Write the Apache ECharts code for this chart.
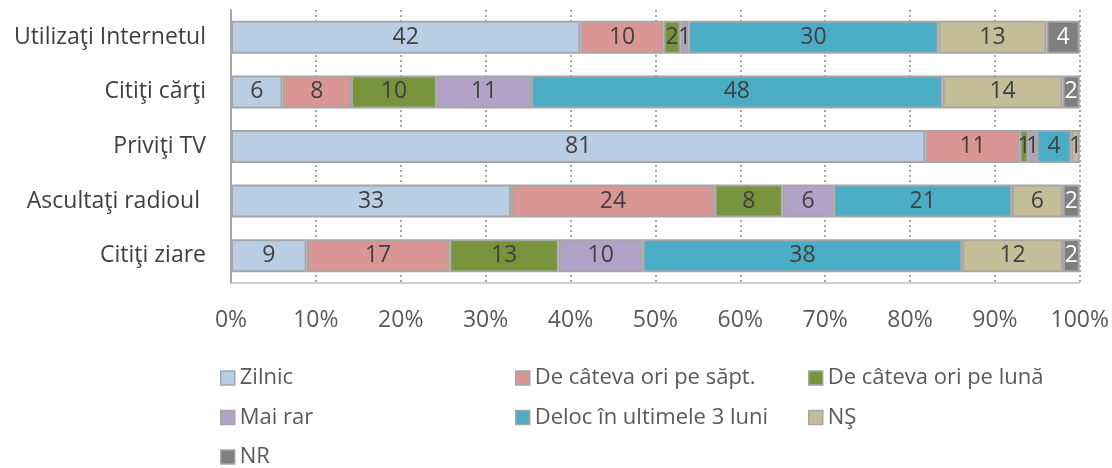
<!DOCTYPE html>
<html>
<head>
<meta charset="utf-8">
<script src="https://cdn.jsdelivr.net/npm/echarts@6/dist/echarts.min.js"></script>
<style>html,body{margin:0;padding:0;background:#fff}#c{width:1112px;height:468px}</style>
</head>
<body>
<div id="c"></div>
<script>
const categories = ["Utilizaţi Internetul", "Citiţi cărţi", "Priviţi TV", "Ascultaţi radioul ", "Citiţi ziare"];
const seriesNames = ["Zilnic", "De câteva ori pe săpt.", "De câteva ori pe lună", "Mai rar", "Deloc în ultimele 3 luni", "NŞ", "NR"];
const zilnic   = [42, 6, 81, 33, 9];
const saptamana = [10, 8, 11, 24, 17];
const luna     = [2, 10, 1, 8, 13];
const maiRar   = [1, 11, 1, 6, 10];
const deloc    = [30, 48, 4, 21, 38];
const ns       = [13, 14, 1, 6, 12];
const nr       = [4, 2, 0, 2, 2];
const xTickLabels = ["0%", "10%", "20%", "30%", "40%", "50%", "60%", "70%", "80%", "90%", "100%"];
const colors = ["#B9CDE5", "#D99694", "#77933C", "#B3A2C7", "#4BACC6", "#C4BD97", "#7F7F7F"];

const seriesValues = [zilnic, saptamana, luna, maiRar, deloc, ns, nr];
const totals = categories.map((_, i) => seriesValues.reduce((s, arr) => s + arr[i], 0));
const FONT = "Open Sans";

const series = seriesNames.map((name, k) => ({
  name: name,
  type: 'bar',
  stack: 'total',
  barWidth: 33,
  itemStyle: { color: colors[k], borderColor: '#A6A6A6', borderWidth: 2 },
  label: {
    show: true,
    position: 'inside',
    fontFamily: FONT,
    fontSize: 23,
    color: k === 6 ? '#FFFFFF' : '#404040',
    formatter: p => { const v = seriesValues[k][p.dataIndex]; return v ? String(v) : ''; }
  },
  labelLayout: { hideOverlap: false },
  data: seriesValues[k].map((v, i) => v ? v / totals[i] * 100 : null)
}));

const legendCol = (names, left) => ({
  orient: 'vertical',
  left: left,
  top: 367,
  height: 110,
  padding: 0,
  itemGap: 17.5,
  itemWidth: 14,
  itemHeight: 14,
  icon: 'rect',
  itemStyle: { borderColor: '#A6A6A6', borderWidth: 1.5 },
  textStyle: { fontFamily: FONT, fontSize: 22, color: '#595959', lineHeight: 22, padding: [0, 0, 0, 0] },
  data: names,
  selectedMode: false
});

const chart = echarts.init(document.getElementById('c'), null, { renderer: 'canvas' });
chart.setOption({
  animation: false,
  color: colors,
  grid: { left: 231, right: 32, top: 10, bottom: 185, containLabel: false },
  legend: [
    legendCol([seriesNames[0], seriesNames[3], seriesNames[6]], 220),
    legendCol([seriesNames[1], seriesNames[4]], 515),
    legendCol([seriesNames[2], seriesNames[5]], 808)
  ],
  xAxis: {
    type: 'value', min: 0, max: 100, interval: 10,
    axisLine: { show: true, lineStyle: { color: '#BFBFBF', width: 1.5 } },
    axisTick: { show: false },
    splitLine: { show: true, lineStyle: { color: '#A6A6A6', type: [2, 3], width: 2 } },
    axisLabel: {
      fontFamily: FONT, fontSize: 23, color: '#595959', margin: 26,
      formatter: v => xTickLabels[Math.round(v / 10)]
    }
  },
  yAxis: {
    type: 'category', inverse: true, data: categories,
    axisLine: { show: true, lineStyle: { color: '#A6A6A6', width: 2 } },
    axisTick: { show: false },
    axisLabel: { fontFamily: FONT, fontSize: 23, color: '#404040', margin: 25 }
  },
  series: series
});
</script>
</body>
</html>
